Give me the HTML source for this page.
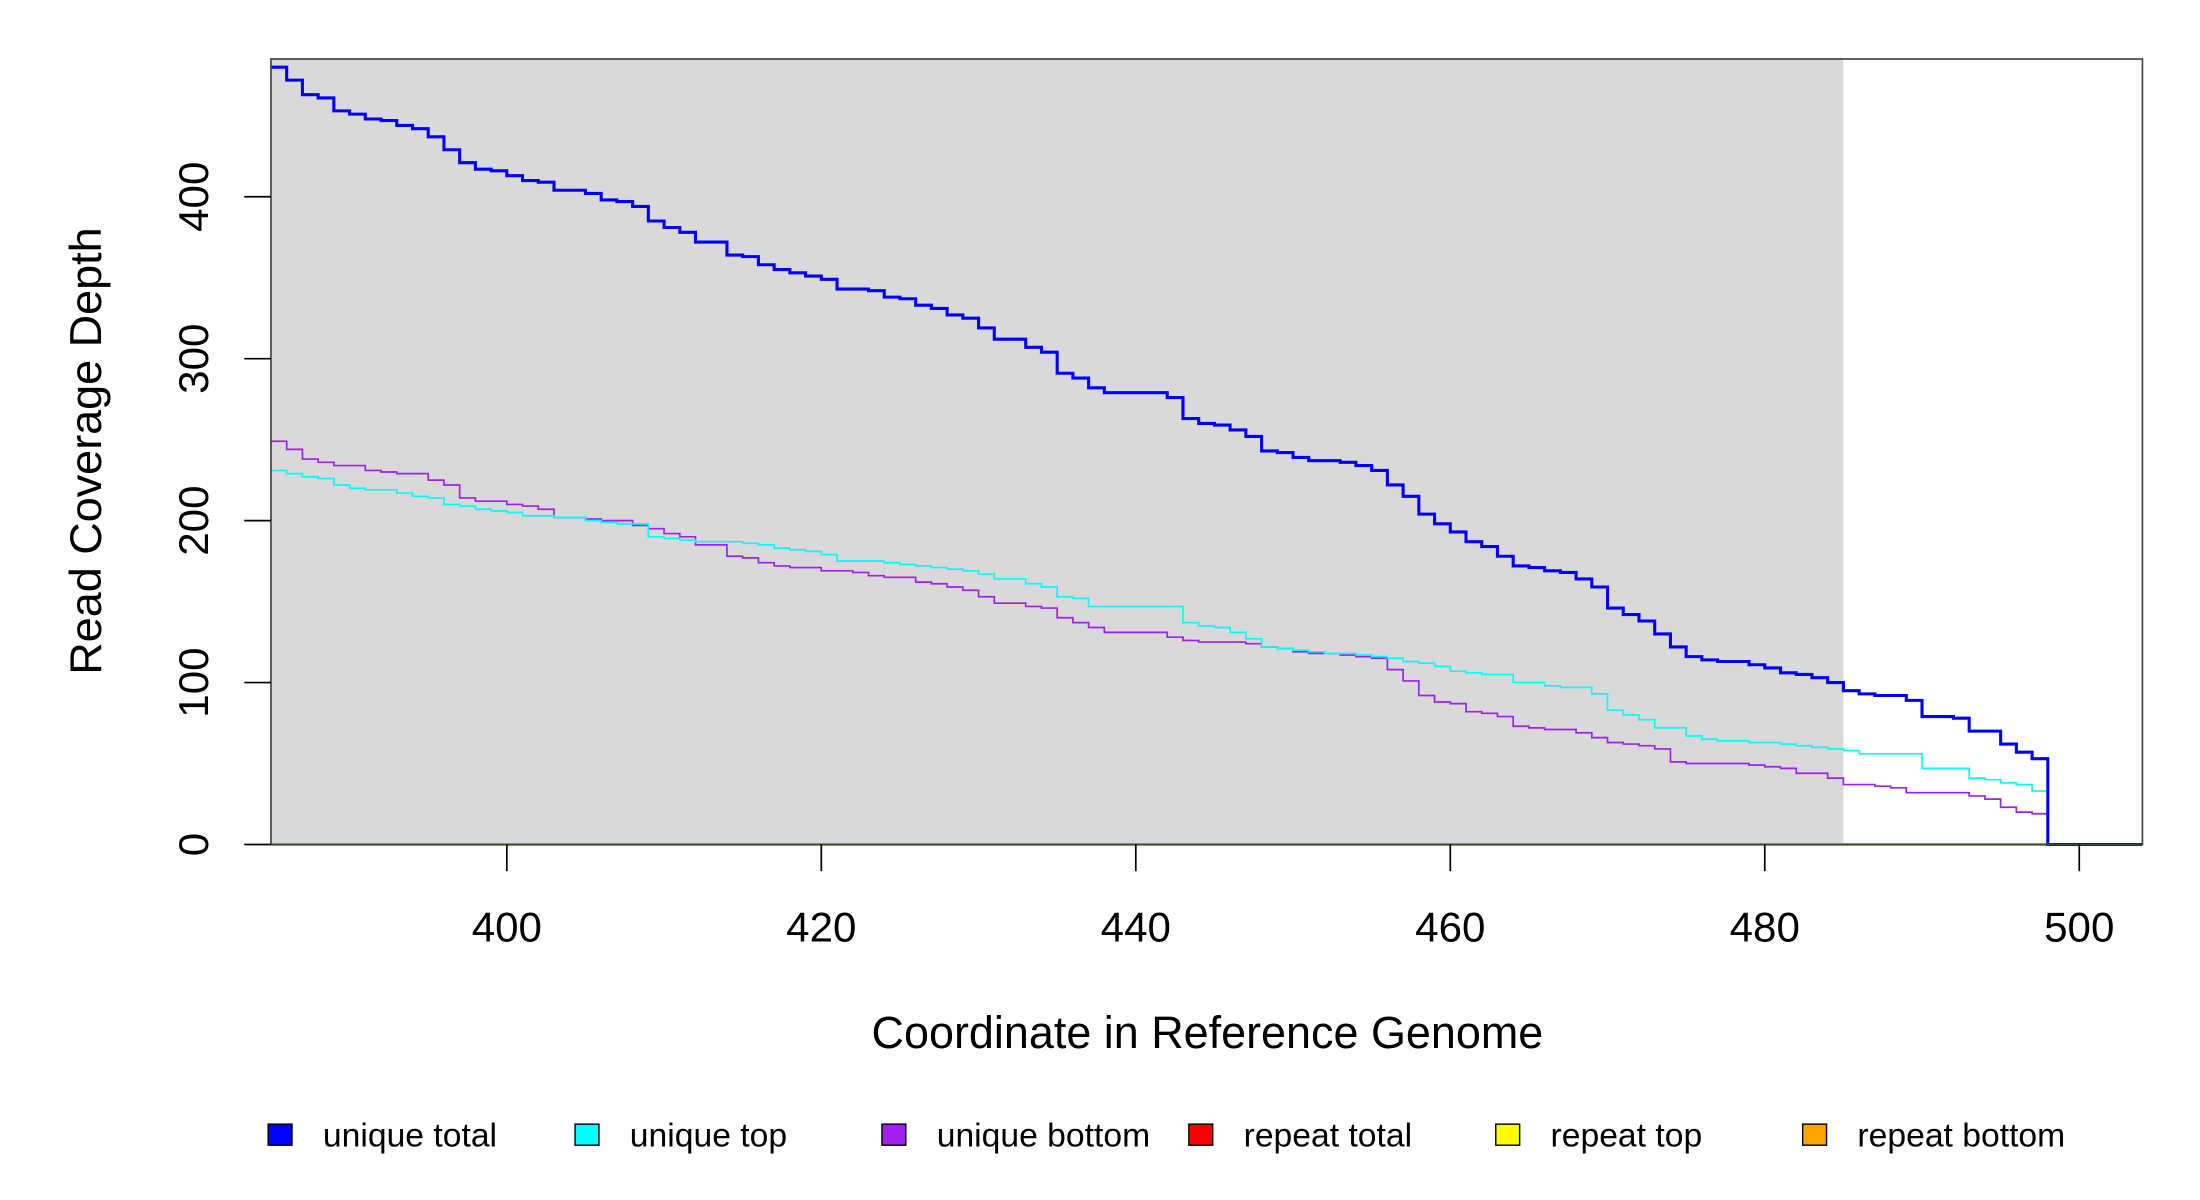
<!DOCTYPE html>
<html><head><meta charset="utf-8"><style>
html,body{margin:0;padding:0;background:#fff;}
svg{display:block;font-family:"Liberation Sans",Arial,sans-serif;}
</style></head><body>
<svg id="chart" width="2200" height="1200" viewBox="0 0 1567 854" preserveAspectRatio="none" xmlns="http://www.w3.org/2000/svg">
<rect id="shade" fill="#d9d9d9"/>
<g id="series"></g>
<rect x="193" y="42" width="1333" height="559" fill="none" stroke="#444" stroke-width="1.2"/>
<g id="axes"></g>
<text x="860" y="746" font-size="32" text-anchor="middle">Coordinate in Reference Genome</text>
<text transform="translate(72,321) rotate(-90)" font-size="32" text-anchor="middle">Read Coverage Depth</text>
<g id="legend"></g>
</svg>
<script>
const positions = [];
for (let p = 385; p <= 504; p++) positions.push(p);
const uniqueTotal = [480,472,463,461,453,451,448,447,444,442,437,429,421,417,416,413,410,409,404,404,402,398,397,394,385,381,378,372,372,364,363,358,355,353,351,349,343,343,342,338,337,333,331,327,325,319,312,312,307,304,291,288,282,279,279,279,279,276,263,260,259,256,252,243,242,239,237,237,236,234,231,222,215,204,198,193,187,184,178,172,171,169,168,164,159,146,142,138,130,122,116,114,113,113,111,109,106,105,103,100,95,93,92,92,89,79,79,78,70,70,62,57,53,0,0,0,0,0,0,0];
const uniqueTop = [231,229,227,226,222,220,219,219,217,215,214,210,209,207,206,205,203,203,202,202,200,199,198,198,190,189,188,187,187,187,186,185,183,182,181,179,175,175,175,174,173,172,171,170,169,167,164,164,161,159,153,152,147,147,147,147,147,147,137,135,134,131,127,122,121,120,119,118,118,117,116,115,113,112,110,107,106,105,105,100,100,98,97,97,93,83,80,77,72,72,67,65,64,64,63,63,62,61,60,59,58,56,56,56,56,47,47,47,41,40,38,37,33,0,0,0,0,0,0,0];
const uniqueBottom = [249,244,238,236,234,234,231,230,229,229,225,222,214,212,212,210,209,207,202,202,201,200,200,197,195,192,190,185,185,178,177,174,172,171,171,169,169,168,166,165,165,162,161,159,157,153,149,149,147,146,140,137,134,131,131,131,131,128,126,125,125,125,124,122,121,119,118,118,117,116,115,108,101,92,88,87,82,81,79,73,72,71,71,69,66,63,62,61,59,51,50,50,50,50,49,48,47,44,44,41,37,37,36,35,32,32,32,32,30,28,23,20,19,0,0,0,0,0,0,0];
const repeatVals = positions.map(() => 0);
const xTicks = [400,420,440,460,480,500];
const yTicks = [0,100,200,300,400];
const legendLabels = ["unique total","unique top","unique bottom","repeat total","repeat top","repeat bottom"];
const legendColors = ["#0000ff","#00ffff","#a020f0","#ff0000","#ffff00","#ffa500"];
const shadeEnd = 485;

const NS = "http://www.w3.org/2000/svg";
const X = v => 193 + (v - 385) * 11.2;
const Y = v => 601 - v * 1.1525;
const sh = document.getElementById('shade');
sh.setAttribute('x', X(385)); sh.setAttribute('y', 42);
sh.setAttribute('width', X(shadeEnd) - X(385)); sh.setAttribute('height', 559);

function stepPath(vals) {
  let d = "";
  for (let i = 0; i < positions.length; i++) {
    const x0 = X(positions[i]), x1 = i + 1 < positions.length ? X(positions[i + 1]) : X(positions[i]);
    const y = Y(vals[i]);
    d += (i === 0 ? "M" : "L") + x0 + "," + y + " L" + x1 + "," + y + " ";
  }
  return d;
}
const g = document.getElementById('series');
const series = [
  ["repeat-bottom-line", repeatVals, "#ffa500", 2],
  ["repeat-top-line", repeatVals, "#ffff00", 1],
  ["repeat-total-line", repeatVals, "#ff0000", 1],
  ["unique-bottom-line", uniqueBottom, "#a020f0", 1.2],
  ["unique-top-line", uniqueTop, "#00ffff", 1.2],
  ["unique-total-line", uniqueTotal, "#0000ff", 2.2]
];
series.forEach(s => {
  const p = document.createElementNS(NS, 'path');
  
  
  p.setAttribute('d', stepPath(s[1]));
  p.setAttribute('fill', 'none');
  p.setAttribute('stroke', s[2]);
  p.setAttribute('stroke-width', s[3]);
  g.appendChild(p);
});
const ax = document.getElementById('axes');
xTicks.forEach(t => {
  const l = document.createElementNS(NS, 'line');
  
  
  l.setAttribute('x1', X(t)); l.setAttribute('x2', X(t));
  l.setAttribute('y1', 601); l.setAttribute('y2', 620);
  l.setAttribute('stroke', '#000'); l.setAttribute('stroke-width', 1.2);
  ax.appendChild(l);
  const tx = document.createElementNS(NS, 'text');
  
  
  tx.setAttribute('x', X(t)); tx.setAttribute('y', 670);
  tx.setAttribute('font-size', 30); tx.setAttribute('text-anchor', 'middle');
  tx.textContent = t;
  ax.appendChild(tx);
});
yTicks.forEach(t => {
  const l = document.createElementNS(NS, 'line');
  
  
  l.setAttribute('x1', 174); l.setAttribute('x2', 193);
  l.setAttribute('y1', Y(t)); l.setAttribute('y2', Y(t));
  l.setAttribute('stroke', '#000'); l.setAttribute('stroke-width', 1.2);
  ax.appendChild(l);
  const tx = document.createElementNS(NS, 'text');
  
  
  tx.setAttribute('transform', 'translate(148,' + Y(t) + ') rotate(-90)');
  tx.setAttribute('font-size', 30); tx.setAttribute('text-anchor', 'middle');
  tx.textContent = t;
  ax.appendChild(tx);
});
const lg = document.getElementById('legend');
legendLabels.forEach((lab, i) => {
  const x = 191 + i * 218.6;
  const r = document.createElementNS(NS, 'rect');
  
  
  r.setAttribute('x', x); r.setAttribute('y', 800);
  r.setAttribute('width', 17); r.setAttribute('height', 15);
  r.setAttribute('fill', legendColors[i]); r.setAttribute('stroke', '#000'); r.setAttribute('stroke-width', 1);
  lg.appendChild(r);
  const t = document.createElementNS(NS, 'text');
  
  
  t.setAttribute('x', x + 39); t.setAttribute('y', 816);
  t.setAttribute('font-size', 24);
  t.textContent = lab;
  lg.appendChild(t);
});
</script>
</body></html>
